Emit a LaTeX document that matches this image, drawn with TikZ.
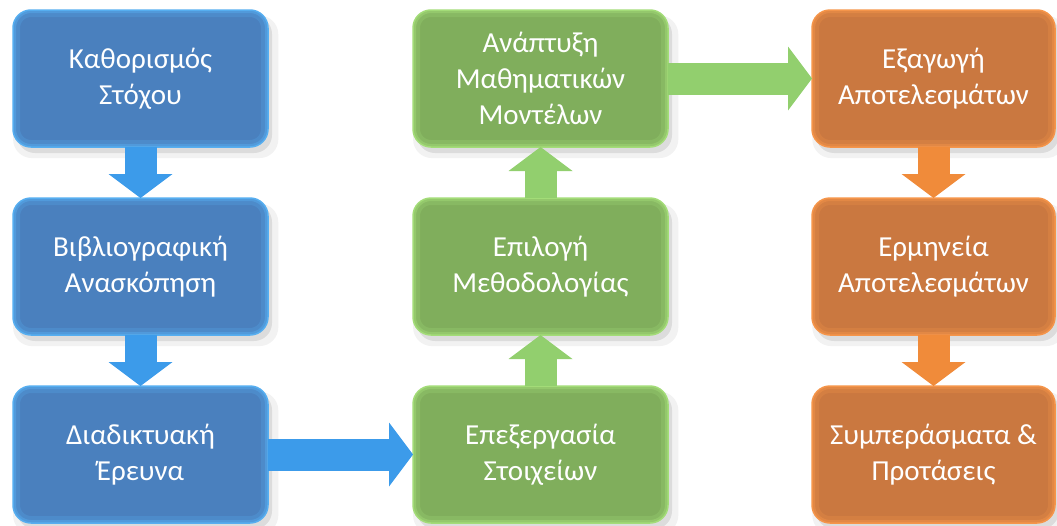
\documentclass[tikz,border=0pt]{standalone}
\usepackage{fontspec}
\setmainfont{Carlito}
\usepackage{tikz}
\usetikzlibrary{positioning,arrows.meta,shadows}
\definecolor{boxblue}{HTML}{4A80BE}
\definecolor{glowblue}{HTML}{56AEF0}
\definecolor{arrblue}{HTML}{3C9BEA}
\definecolor{boxgreen}{HTML}{80AE5C}
\definecolor{glowgreen}{HTML}{A3DC78}
\definecolor{arrgreen}{HTML}{92CF6E}
\definecolor{boxorange}{HTML}{CA7840}
\definecolor{gloworange}{HTML}{F5954A}
\definecolor{arrorange}{HTML}{F08B3A}

\begin{document}
\begin{tikzpicture}[
	stagebox/.style={ % rounded box with an inner glow and a soft shadow
		rounded corners=18pt, minimum width=255pt, minimum height=137pt,
		inner sep=0pt, outer sep=0pt, line width=1.5pt,
		text=white, align=center, font=\fontsize{29}{36}\selectfont,
		general shadow={fill=black, opacity=.05, shadow xshift=5pt, shadow yshift=-8pt, shadow scale=1.04},
		general shadow={fill=black, opacity=.09, shadow xshift=4pt, shadow yshift=-6pt},
		path picture={
			\draw[#1, line width=14pt, opacity=.25, rounded corners=18pt]
				(path picture bounding box.south west) rectangle (path picture bounding box.north east);
			\draw[#1, line width=6pt, opacity=.45, rounded corners=18pt]
				(path picture bounding box.south west) rectangle (path picture bounding box.north east);
		},
	},
	bluebox/.style={stagebox=glowblue, fill=boxblue, draw=glowblue},
	greenbox/.style={stagebox=glowgreen, fill=boxgreen, draw=glowgreen},
	orangebox/.style={stagebox=gloworange, fill=boxorange, draw=gloworange, minimum width=243pt},
	blockarrow/.style={ % wide arrow between two boxes
		line width=32pt, draw=#1,
		-{Triangle[length=24pt 0 0, width=64pt 0 0, line width=0pt 0 0]}
	}
]
	\useasboundingbox (0,0) rectangle (1057pt,-525pt);
	%% first column
	\node[bluebox] (kath) at (140.5pt,-78.5pt) {Καθορισμός\\Στόχου};
	\node[bluebox, below =51pt of kath] (vivl) {Βιβλιογραφική\\Ανασκόπηση};
	\node[bluebox, below =51pt of vivl] (diad) {Διαδικτυακή\\Έρευνα};
	%% second column (bottom up)
	\node[greenbox, right =145pt of diad] (epex) {Επεξεργασία\\Στοιχείων};
	\node[greenbox, above =51pt of epex] (epil) {Επιλογή\\Μεθοδολογίας};
	\node[greenbox, above =51pt of epil] (anap) {Ανάπτυξη\\Μαθηματικών\\Μοντέλων};
	%% third column
	\node[orangebox, right =144pt of anap] (exag) {Εξαγωγή\\Αποτελεσμάτων};
	\node[orangebox, below =51pt of exag] (erm) {Ερμηνεία\\Αποτελεσμάτων};
	\node[orangebox, below =51pt of erm] (symp) {Συμπεράσματα \&\\Προτάσεις};
	% arrows
	\draw[blockarrow=arrblue] (kath) -- (vivl);
	\draw[blockarrow=arrblue] (vivl) -- (diad);
	\draw[blockarrow=arrblue] (diad) -- (epex);
	\draw[blockarrow=arrgreen] (epex) -- (epil);
	\draw[blockarrow=arrgreen] (epil) -- (anap);
	\draw[blockarrow=arrgreen] (anap) -- (exag);
	\draw[blockarrow=arrorange] (exag) -- (erm);
	\draw[blockarrow=arrorange] (erm) -- (symp);
\end{tikzpicture}
\end{document}
